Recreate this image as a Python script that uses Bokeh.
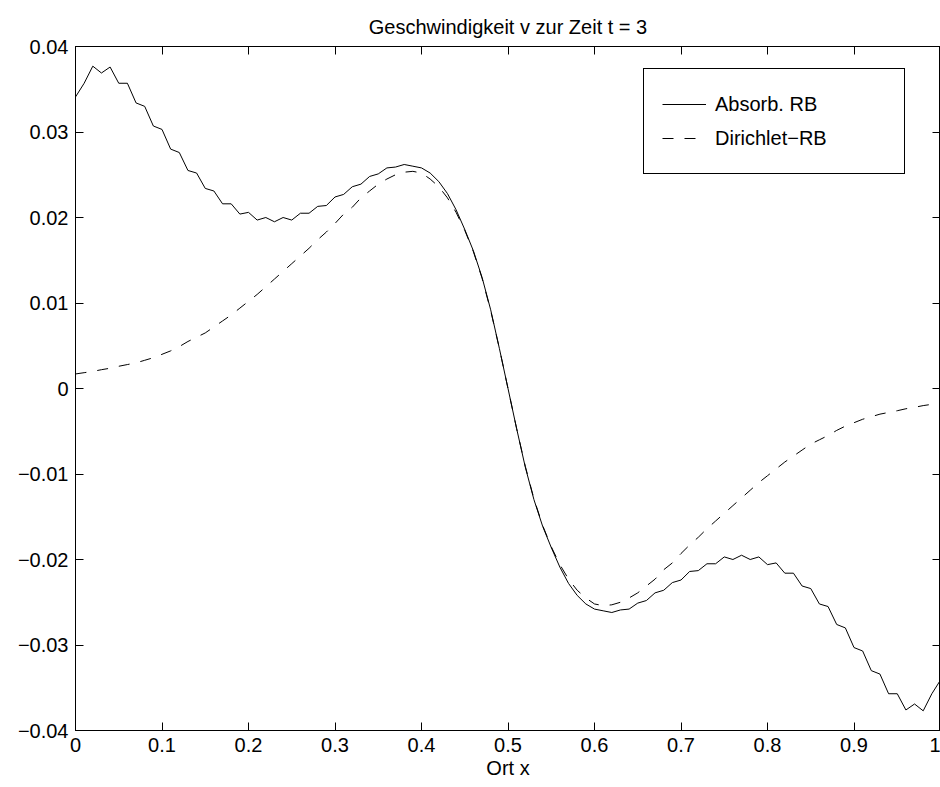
from bokeh.plotting import figure
from bokeh.models import (Range1d, LinearAxis, FixedTicker, CustomJSTickFormatter,
                          Legend, LegendItem, ColumnDataSource)
from bokeh.embed import file_html
from bokeh.resources import INLINE

# ---------------- data ----------------
x_ort = [round(i * 0.01, 2) for i in range(101)]

v_absorb = [
    0.0341, 0.0357, 0.0377, 0.0369, 0.0376, 0.0357, 0.0357, 0.0334, 0.0330, 0.0307,
    0.0303, 0.0280, 0.0276, 0.0255, 0.0252, 0.0234, 0.0231, 0.0216, 0.0216, 0.0204,
    0.0206, 0.0197, 0.0200, 0.0195, 0.0200, 0.0197, 0.0205, 0.0205, 0.0213, 0.0214,
    0.0224, 0.0227, 0.0236, 0.0239, 0.0248, 0.0251, 0.0258, 0.0259, 0.0262, 0.0260,
    0.0258, 0.0252, 0.0242, 0.0228, 0.0209, 0.0186, 0.0161, 0.0130, 0.0092, 0.0047,
    0.0000,
    -0.0047, -0.0092, -0.0130, -0.0161, -0.0186, -0.0209, -0.0228, -0.0242, -0.0252, -0.0258,
    -0.0260, -0.0262, -0.0259, -0.0258, -0.0251, -0.0248, -0.0239, -0.0236, -0.0227, -0.0224,
    -0.0214, -0.0213, -0.0205, -0.0205, -0.0197, -0.0200, -0.0195, -0.0200, -0.0197, -0.0206,
    -0.0204, -0.0216, -0.0216, -0.0231, -0.0234, -0.0252, -0.0255, -0.0276, -0.0280, -0.0303,
    -0.0307, -0.0330, -0.0334, -0.0357, -0.0357, -0.0376, -0.0369, -0.0377, -0.0357, -0.0341,
]

v_dirichlet = [
    0.00170, 0.00185, 0.00200, 0.00220, 0.00237, 0.00260, 0.00280, 0.00300, 0.00330, 0.00360,
    0.00400, 0.00440, 0.00490, 0.00550, 0.00600, 0.00650, 0.00720, 0.00790, 0.00860, 0.00940,
    0.01020, 0.01100, 0.01190, 0.01280, 0.01370, 0.01460, 0.01550, 0.01640, 0.01740, 0.01830,
    0.01930, 0.02040, 0.02120, 0.02230, 0.02310, 0.02390, 0.02450, 0.02500, 0.02530, 0.02540,
    0.02520, 0.02450, 0.02360, 0.02230, 0.02060, 0.01850, 0.01600, 0.01290, 0.00910, 0.00470,
    0.00000,
    -0.00470, -0.00910, -0.01290, -0.01600, -0.01850, -0.02060, -0.02230, -0.02360, -0.02450, -0.02520,
    -0.02540, -0.02530, -0.02500, -0.02450, -0.02390, -0.02310, -0.02230, -0.02120, -0.02040, -0.01930,
    -0.01830, -0.01740, -0.01640, -0.01550, -0.01460, -0.01370, -0.01280, -0.01190, -0.01100, -0.01020,
    -0.00940, -0.00860, -0.00790, -0.00720, -0.00650, -0.00600, -0.00550, -0.00490, -0.00440, -0.00400,
    -0.00360, -0.00330, -0.00300, -0.00280, -0.00260, -0.00237, -0.00220, -0.00200, -0.00185, -0.00170,
]

x_ticks = [0.0, 0.1, 0.2, 0.3, 0.4, 0.5, 0.6, 0.7, 0.8, 0.9, 1.0]
y_ticks = [-0.04, -0.03, -0.02, -0.01, 0.0, 0.01, 0.02, 0.03, 0.04]

series_labels = ["Absorb. RB", "Dirichlet\u2212RB"]
title_text = "Geschwindigkeit v zur Zeit t = 3"
x_label = "Ort x"

FONT = "Liberation Sans"
FS = "20px"

src = ColumnDataSource(dict(x=x_ort, absorb=v_absorb, dirichlet=v_dirichlet))

p = figure(width=940, height=787, output_backend="svg", toolbar_location=None,
           x_range=Range1d(0, 1), y_range=Range1d(-0.04, 0.04),
           min_border_left=75, min_border_right=0, min_border_top=46, min_border_bottom=57,
           title=title_text)
p.background_fill_color = "white"
p.border_fill_color = "white"
p.outline_line_color = "black"
p.outline_line_width = 1
p.outline_line_alpha = 1
p.xgrid.visible = False
p.ygrid.visible = False

p.title.text_font = FONT
p.title.text_font_size = FS
p.title.text_font_style = "normal"
p.title.align = "center"
p.title.text_color = "black"
p.title.standoff = 18

xfmt = CustomJSTickFormatter(code="""
if (Math.abs(tick) < 1e-9) return '0';
if (Math.abs(tick - 1) < 1e-9) return '1';
return tick.toFixed(1);
""")
yfmt = CustomJSTickFormatter(code="""
if (Math.abs(tick) < 1e-9) return '0';
var s = Math.abs(tick).toFixed(2);
return (tick < 0 ? '\\u2212' : '') + s;
""")

for ax in (p.xaxis[0], p.yaxis[0]):
    ax.major_tick_in = 8
    ax.major_tick_out = 0
    ax.minor_tick_line_color = None
    ax.axis_line_color = "black"
    ax.major_tick_line_color = "black"
    ax.major_label_text_font = FONT
    ax.major_label_text_font_size = FS
    ax.major_label_text_color = "black"

p.xaxis[0].ticker = FixedTicker(ticks=x_ticks)
p.xaxis[0].formatter = xfmt
p.xaxis[0].major_label_standoff = 7
p.xaxis[0].axis_label = x_label
p.xaxis[0].axis_label_text_font = FONT
p.xaxis[0].axis_label_text_font_size = FS
p.xaxis[0].axis_label_text_font_style = "normal"
p.xaxis[0].axis_label_text_color = "black"
p.xaxis[0].axis_label_standoff = 2

p.yaxis[0].ticker = FixedTicker(ticks=y_ticks)
p.yaxis[0].formatter = yfmt
p.yaxis[0].major_label_standoff = 7

empty = CustomJSTickFormatter(code="return '';")
top_ax = LinearAxis(ticker=FixedTicker(ticks=x_ticks), formatter=empty,
                    major_label_text_font_size="0px", major_label_standoff=0,
                    major_tick_in=8, major_tick_out=0, minor_tick_line_color=None,
                    axis_line_color="black", major_tick_line_color="black")
right_ax = LinearAxis(ticker=FixedTicker(ticks=y_ticks), formatter=empty,
                      major_label_text_font_size="0px", major_label_standoff=0,
                      major_tick_in=8, major_tick_out=0, minor_tick_line_color=None,
                      axis_line_color="black", major_tick_line_color="black")
p.add_layout(top_ax, "above")
p.add_layout(right_ax, "right")

r1 = p.line("x", "absorb", source=src, line_color="black", line_width=1)
r2 = p.line("x", "dirichlet", source=src, line_color="black", line_width=1,
            line_dash="11 11")

legend = Legend(items=[LegendItem(label=series_labels[0], renderers=[r1]),
                       LegendItem(label=series_labels[1], renderers=[r2])],
                location=(568, 556), padding=18, spacing=0, margin=0,
                glyph_width=44, glyph_height=34, label_height=34, label_width=171,
                label_standoff=9, label_text_font=FONT, label_text_font_size=FS,
                label_text_color="black", border_line_color="black",
                border_line_width=1, border_line_alpha=1,
                background_fill_color="white", background_fill_alpha=1)
p.add_layout(legend)

open("out.html", "w").write(file_html(p, INLINE))
